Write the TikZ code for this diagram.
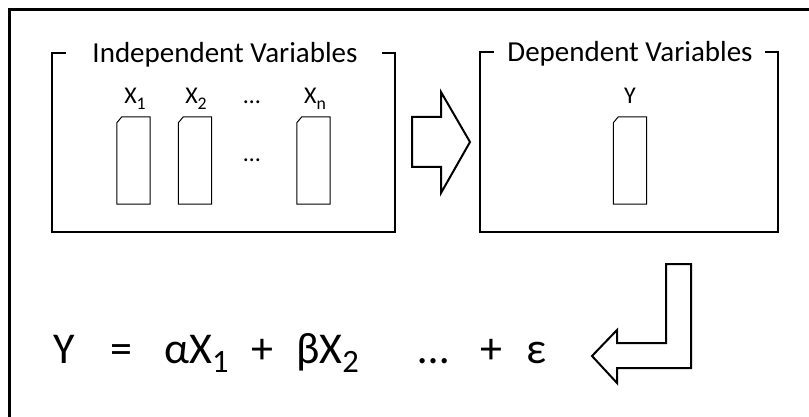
\documentclass[tikz,border=0pt]{standalone}
\usepackage{fontspec}
\setmainfont{Carlito}
\newcommand\sbx[1]{\raisebox{-0.22em}{\scalebox{0.74}{#1}}}
\tikzset{
  frame/.style={line width=3pt, line cap=rect},
  brk/.style={line width=2.6pt},
  colbox/.style={minimum width=33pt, minimum height=87pt, inner sep=0pt},
  colline/.style={line width=1pt, line join=miter},
  blockarrow/.style={draw, line width=2pt, line join=miter},
  title/.style={anchor=base, inner sep=0pt, font=\fontsize{29}{31}\selectfont},
  lbl/.style={anchor=base, inner sep=0pt, font=\fontsize{24}{26}\selectfont},
  eq/.style={anchor=base west, inner sep=0pt, font=\fontsize{44}{48}\selectfont},
}
\newcommand\colshape[1]{\draw[colline] ([yshift=-6pt]#1.north west) -- ([xshift=5pt]#1.north west) -- (#1.north east) -- (#1.south east) -- (#1.south west) -- cycle;}
\begin{document}
\begin{tikzpicture}[x=1pt,y=-1pt]
\useasboundingbox (0,0) rectangle (809,417);
% outer frame
\draw[frame] (9,420) -- (9,10) -- (812,10);
% left box
\draw[brk] (66,53) -- (52,53) -- (52,232) -- (395,232) -- (395,53) -- (382,53);
\node[title] (indep) at (225,63) {Independent Variables};
% right box
\draw[brk] (494,52) -- (480,52) -- (480,232) -- (778,232) -- (778,52) -- (765,52);
\node[title] (dep) at (630,62) {Dependent Variables};
% columns
\node[colbox] (c1) at (133.5,160.5) {};
\node[colbox] (c2) at (195,160.5) {};
\node[colbox] (cn) at (313.5,160.5) {};
\node[colbox] (cy) at (630,160.5) {};
\colshape{c1}\colshape{c2}\colshape{cn}\colshape{cy}
\node[lbl] (l1) at (135,104) {X\sbx{1}};
\node[lbl] (l2) at (196,104) {X\sbx{2}};
\node[lbl] (ld) at (252,104) {…};
\node[lbl] (ln) at (315,104) {X\sbx{n}};
\node[lbl] (ly) at (630,104) {Y};
\node[lbl] (md) at (252,161) {…};
% right arrow
\draw[blockarrow] (412,117) -- (441,117) -- (441,92) -- (470,142) -- (441,193) -- (441,167) -- (412,167) -- cycle;
% bent arrow
\draw[blockarrow] (666,264) -- (691,264) -- (691,368) -- (617,368) -- (617,383) -- (592,356) -- (617,330) -- (617,343) -- (666,343) -- cycle;
% equation
\node[eq] (eY) at (53,363) {Y};
\node[eq] (eEq) at (110,363) {=};
\node[eq] (eA) at (164,363) {αX\sbx{1}};
\node[eq] (eP1) at (251,363) {+};
\node[eq] (eB) at (296,363) {βX\sbx{2}};
\node[eq] (eD) at (418,363) {…};
\node[eq] (eP2) at (480,363) {+};
\node[eq] (eE) at (526,363) {ε};
\end{tikzpicture}
\end{document}
